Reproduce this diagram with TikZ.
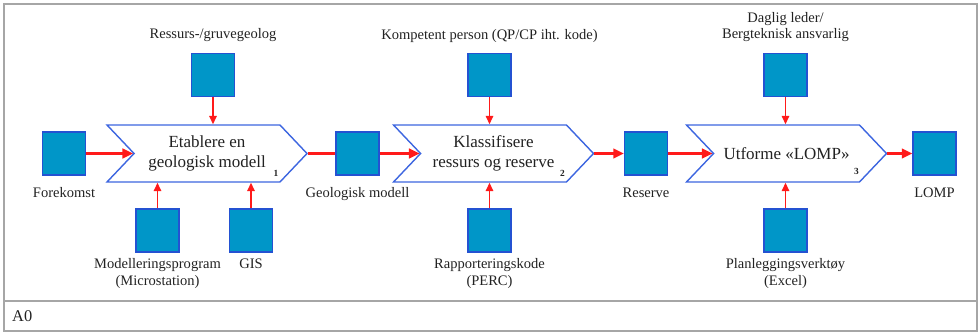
\documentclass[tikz,border=0pt]{standalone}
\usepackage{fontspec}
\setmainfont{Liberation Serif}
\usetikzlibrary{arrows.meta,calc,positioning,shapes.symbols}
\definecolor{boxfill}{HTML}{0096C8}
\definecolor{boxline}{HTML}{2452D2}
\definecolor{chevline}{HTML}{3D66E0}
\definecolor{flowred}{HTML}{FF1A1A}
\definecolor{framegray}{HTML}{A6A6A6}
\definecolor{inktext}{HTML}{222222}

\begin{document}
\begin{tikzpicture}[x=0.03cm,y=0.03cm,
  text=inktext,
  sqbox/.style={draw=boxline,line width=1pt,fill=boxfill,minimum size=1.29cm,inner sep=0pt},
  procbox/.style={signal,signal from=west,signal to=east,signal pointer angle=93,draw=chevline,line width=1.2pt,fill=white,minimum width=6cm,minimum height=1.71cm,align=center,font=\fontsize{14.5}{17}\selectfont},
  lbl/.style={align=center,inner sep=1pt,font=\fontsize{12.4}{14.5}\selectfont},
  idx/.style={inner sep=0pt,font=\fontsize{8}{9}\selectfont\bfseries},
  mainflow/.style={-{Triangle[length=3.2mm,width=2.9mm]},draw=flowred,line width=2pt},
  plainflow/.style={draw=flowred,line width=2pt},
  sideflow/.style={-{Triangle[length=2.5mm,width=2.2mm]},draw=flowred,line width=1.3pt}
]
\path[use as bounding box] (0,0) rectangle (980,333);

% Frame and title strip
\draw[framegray,line width=1.6pt] (4,2) rectangle (977,329);
\draw[framegray,line width=1.6pt] (4,32) -- (977,32);
\node[anchor=west,inner sep=0pt,font=\fontsize{14}{16}\selectfont] (title) at (12,17) {A0};

% Activities
\node[procbox] (p1) at (207,179.5) {Etablere en\\geologisk modell};
\node[procbox] (p2) at (493.5,179.5) {Klassifisere\\ressurs og reserve};
\node[procbox] (p3) at (786.5,179.5) {Utforme «LOMP»};
\node[idx] (n1) at ($(p1.south)+(69,9)$) {1};
\node[idx] (n2) at ($(p2.south)+(69,9)$) {2};
\node[idx] (n3) at ($(p3.south)+(70,11)$) {3};

% Inputs and outputs
\node[sqbox] (fore) at (64,179.5) {};
\node[sqbox] (geo) at (357.5,179.5) {};
\node[sqbox] (res) at (646,179.5) {};
\node[sqbox] (lomp) at (934.5,179.5) {};

% Controls
\node[sqbox] (rgeo) at (213,258) {};
\node[sqbox] (qp) at (489.5,258) {};
\node[sqbox] (leder) at (785.5,258) {};

% Mechanisms
\node[sqbox] (model) at (157.5,102.5) {};
\node[sqbox] (gis) at (251,102.5) {};
\node[sqbox] (kode) at (489.5,102.5) {};
\node[sqbox] (verk) at (785.5,102.5) {};

% Labels
\node[lbl,below=9pt of fore] (lfore) {Forekomst};
\node[lbl,below=9pt of geo] (lgeo) {Geologisk modell};
\node[lbl,below=9pt of res] (lres) {Reserve};
\node[lbl,below=9pt of lomp] (llomp) {LOMP};
\node[lbl,above=8pt of rgeo] (lrgeo) {Ressurs-/gruvegeolog};
\node[lbl,above=8pt of qp] (lqp) {Kompetent person (QP/CP iht. kode)};
\node[lbl,above=8pt of leder] (lleder) {Daglig leder/\\Bergteknisk ansvarlig};
\node[lbl,below=4pt of model] (lmodel) {Modelleringsprogram\\(Microstation)};
\node[lbl,below=4pt of gis] (lgis) {GIS};
\node[lbl,below=4pt of kode] (lkode) {Rapporteringskode\\(PERC)};
\node[lbl,below=4pt of verk] (lverk) {Planleggingsverktøy\\(Excel)};

% Main flow
\draw[mainflow] (fore.east) -- (p1.west);
\draw[plainflow] (p1.east) -- (geo.west);
\draw[mainflow] (geo.east) -- (p2.west);
\draw[mainflow] (p2.east) -- (res.west);
\draw[mainflow] (res.east) -- (p3.west);
\draw[mainflow] (p3.east) -- (lomp.west);

% Controls from above, mechanisms from below
\draw[sideflow] (rgeo.south) -- (rgeo.south |- p1.north);
\draw[sideflow] (qp.south) -- (qp.south |- p2.north);
\draw[sideflow] (leder.south) -- (leder.south |- p3.north);
\draw[sideflow] (model.north) -- (model.north |- p1.south);
\draw[sideflow] (gis.north) -- (gis.north |- p1.south);
\draw[sideflow] (kode.north) -- (kode.north |- p2.south);
\draw[sideflow] (verk.north) -- (verk.north |- p3.south);

\end{tikzpicture}
\end{document}
